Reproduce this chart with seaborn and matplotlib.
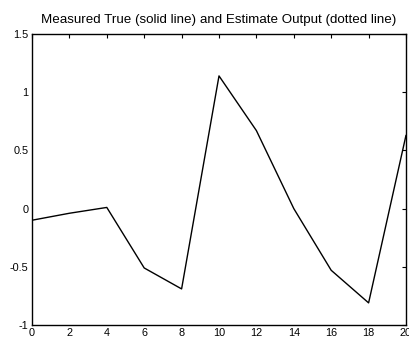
import matplotlib
matplotlib.use("Agg")
import matplotlib.pyplot as plt
import seaborn as sns
import pandas as pd

x_vals = [0, 2, 4, 6, 8, 10, 12, 14, 16, 18, 20]
measured = [-0.10, -0.04, 0.01, -0.51, -0.69, 1.14, 0.67, 0.00, -0.53, -0.81, 0.63]
x_ticks = [0, 2, 4, 6, 8, 10, 12, 14, 16, 18, 20]
y_ticks = [-1, -0.5, 0, 0.5, 1, 1.5]
y_tick_labels = ["-1", "-0.5", "0", "0.5", "1", "1.5"]
title = "Measured True (solid line) and Estimate Output (dotted line)"

sns.set_theme(style="white")
plt.rcParams['font.family'] = ['Liberation Sans', 'DejaVu Sans']

fig = plt.figure(figsize=(4.09, 3.39), dpi=100)
ax = fig.add_axes([32/409, 1-325/339, (406-32)/409, (325-34)/339])

df = pd.DataFrame({"x": x_vals, "y": measured})
sns.lineplot(data=df, x="x", y="y", ax=ax, color="black", linewidth=1.0)

ax.set_xlim(0, 20)
ax.set_ylim(-1, 1.5)
ax.set_xticks(x_ticks)
ax.set_xticklabels([str(t) for t in x_ticks])
ax.set_yticks(y_ticks)
ax.set_yticklabels(y_tick_labels)
ax.set_xlabel("")
ax.set_ylabel("")
ax.set_title(title, fontsize=9.6, pad=8, color="black")
ax.tick_params(direction="in", length=3, width=0.8, top=True, right=True,
               labelsize=7.8, pad=2.5, colors="black")
for s in ax.spines.values():
    s.set_visible(True)
    s.set_color("black")
    s.set_linewidth(1.0)

fig.savefig("out.png", dpi=100)
